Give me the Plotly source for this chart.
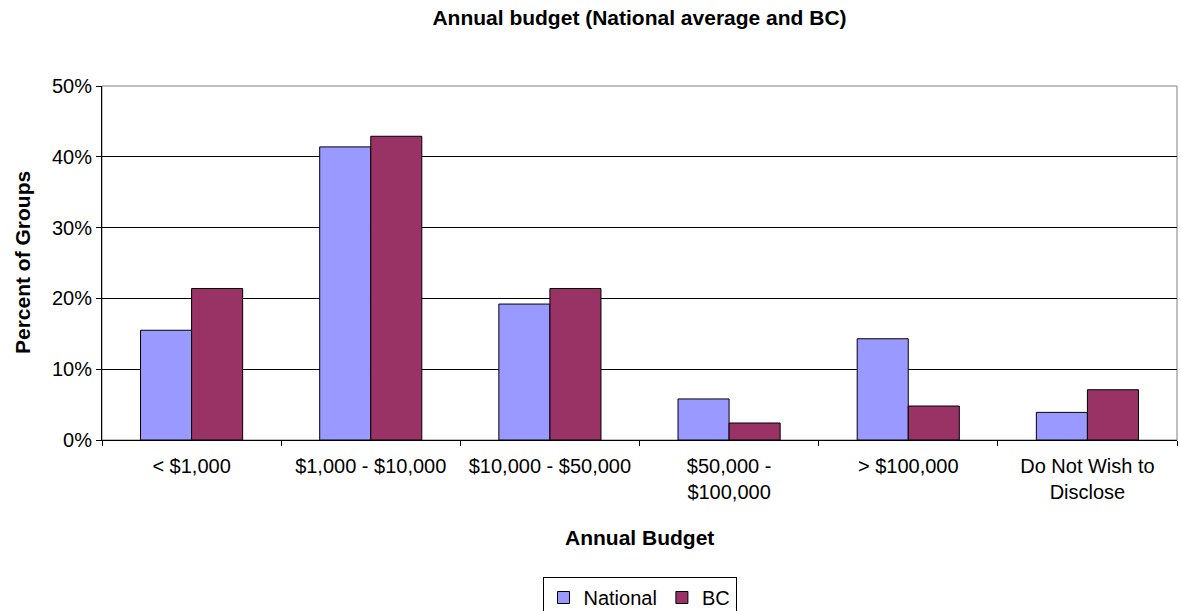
import plotly.graph_objects as go

# Annual budget categories and share of groups (fractions)
categories = ["< $1,000", "$1,000 - $10,000", "$10,000 - $50,000",
              "$50,000 - $100,000", "> $100,000", "Do Not Wish to Disclose"]
tick_labels = ["&lt; $1,000", "$1,000 - $10,000", "$10,000 - $50,000",
               "$50,000 -<br>$100,000", "&gt; $100,000", "Do Not Wish to<br>Disclose"]
national = [0.155, 0.414, 0.192, 0.058, 0.143, 0.039]
bc = [0.214, 0.429, 0.214, 0.024, 0.048, 0.071]
y_ticks = [0, 0.1, 0.2, 0.3, 0.4, 0.5]

FONT = "Arial, Liberation Sans, sans-serif"

fig = go.Figure()
fig.add_trace(go.Bar(name="National", x=categories, y=national,
                     marker=dict(color="#9999FF", line=dict(color="black", width=1))))
fig.add_trace(go.Bar(name="BC", x=categories, y=bc,
                     marker=dict(color="#993366", line=dict(color="black", width=1))))

W, H = 1181, 611
L, R, T, B = 102, 4, 86, 171

fig.update_layout(
    width=W, height=H,
    margin=dict(l=L, r=R, t=T, b=B),
    paper_bgcolor="white", plot_bgcolor="white",
    barmode="group", bargap=0.43, bargroupgap=0,
    font=dict(family=FONT, color="black", size=20),
    title=dict(text="<b>Annual budget (National average and BC)</b>",
               x=0.5, xref="paper", xanchor="center",
               y=1 - 18 / H, yref="container", yanchor="middle",
               font=dict(size=21, family=FONT, color="black")),
    legend=dict(orientation="h", x=0.5, xanchor="center",
                y=1 - 577 / H, yref="container", yanchor="top",
                bordercolor="black", borderwidth=1,
                font=dict(size=20, family=FONT, color="black"),
                itemwidth=30, tracegroupgap=0),
    showlegend=True,
)

fig.update_xaxes(
    categoryorder="array", categoryarray=categories,
    tickvals=categories, ticktext=tick_labels,
    tickson="boundaries", ticks="outside", ticklen=5, tickcolor="black",
    ticklabelstandoff=8,
    showline=True, linecolor="black", linewidth=1,
    showgrid=False, tickfont=dict(size=20),
)
fig.update_yaxes(
    range=[0, 0.5], tickvals=y_ticks, tickformat=".0%",
    ticks="outside", ticklen=5, tickcolor="black",
    showline=True, linecolor="black", linewidth=1,
    showgrid=True, gridcolor="black", gridwidth=1,
    tickfont=dict(size=20), zeroline=False,
)

# gray frame on top and right of plotting area
fig.add_shape(type="rect", xref="paper", yref="paper", x0=0, x1=1, y0=0, y1=1,
              line=dict(color="#808080", width=1), layer="below")

# axis titles
fig.add_annotation(text="<b>Annual Budget</b>", xref="paper", yref="paper",
                   x=0.5, y=-(537 - 440) / (H - T - B), showarrow=False,
                   xanchor="center", yanchor="middle",
                   font=dict(size=21, family=FONT, color="black"))
fig.add_annotation(text="<b>Percent of Groups</b>", xref="paper", yref="paper",
                   x=-(L - 22) / (W - L - R), y=0.5, textangle=-90, showarrow=False,
                   xanchor="center", yanchor="middle",
                   font=dict(size=21, family=FONT, color="black"))

fig.write_html("out.html")
